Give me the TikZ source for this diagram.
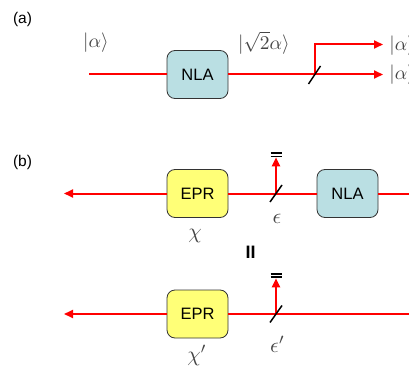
\documentclass[tikz,border=0pt]{standalone}
\usepackage{fontspec}
\setmainfont{Liberation Sans}
\usetikzlibrary{arrows.meta}
\definecolor{nlafill}{RGB}{186,223,227}
\definecolor{eprfill}{RGB}{255,255,119}
\definecolor{mathgray}{RGB}{70,70,70}
\begin{document}
\begin{tikzpicture}[x=1pt,y=-1pt,
  beam/.style={red, line width=2pt},
  arr/.style={beam, -{Triangle[length=9pt,width=8pt]}},
  mirror/.style={black, line width=1.5pt},
  detbar/.style={black, line width=2pt},
  detbarthin/.style={black, line width=1.5pt},
  boxbase/.style={draw=black!80, line width=0.8pt, rounded corners=8pt,
    minimum width=61pt, minimum height=48pt, inner sep=0pt,
    font=\fontsize{16.5}{18}\selectfont},
  nlabox/.style={boxbase, fill=nlafill},
  eprbox/.style={boxbase, fill=eprfill},
  tag/.style={font=\fontsize{15.5}{17}\selectfont, inner sep=0pt},
  lbl/.style={text=mathgray, font=\normalsize, scale=1.95, inner sep=0pt},
  blbl/.style={text=mathgray, font=\normalsize, scale=2.15, inner sep=0pt, anchor=base}
]
\useasboundingbox (0,0) rectangle (409,366);
\clip (0,0) rectangle (409,366);

% ---------- (a) ----------
\node[tag] (la) at (22.5,19.5) {(a)};
\coordinate (ain) at (89,74.5);
\node[nlabox] (nla1) at (197.5,74.5) {NLA};
\coordinate (bs1) at (314.5,74.5);
\coordinate (bs1a) at (308.5,84);
\coordinate (bs1b) at (320.5,66);
\coordinate (o1) at (383,44.5);
\coordinate (o2) at (383,74.5);
\draw[beam] (ain) -- (nla1.west);
\draw[beam] (nla1.east) -- (bs1);
\draw[arr] (bs1) -- (o2);
\draw[arr] (bs1) |- (o1);
\draw[mirror] (bs1a) -- (bs1b);
\node[lbl] (kin) at (96,42.5) {$|\alpha\rangle$};
\node[lbl] (kamp) at (264,43) {$|\sqrt{2}\alpha\rangle$};
\node[lbl, anchor=west] (kout1) at (389,46) {$|\alpha\rangle$};
\node[lbl, anchor=west] (kout2) at (389,74.5) {$|\alpha\rangle$};

% ---------- (b) ----------
\node[tag] (lb) at (22.5,162) {(b)};
\node[eprbox] (epr1) at (197.5,193.5) {EPR};
\node[nlabox] (nla2) at (347.5,193.5) {NLA};
\coordinate (l1) at (64,193.5);
\coordinate (r1) at (409,193.5);
\coordinate (bs2) at (276,193.5);
\coordinate (bs2a) at (270,202);
\coordinate (bs2b) at (282,185);
\coordinate (det1) at (276,157.3);
\coordinate (d1a) at (270.5,153.4);
\coordinate (d1b) at (281.5,153.4);
\coordinate (d1c) at (270.5,156.6);
\coordinate (d1d) at (281.5,156.6);
\draw[arr] (epr1.west) -- (l1);
\draw[beam] (epr1.east) -- (nla2.west);
\draw[beam] (nla2.east) -- (r1);
\draw[arr] (bs2) -- (det1);
\draw[mirror] (bs2a) -- (bs2b);
\draw[detbar] (d1a) -- (d1b);
\draw[detbarthin] (d1c) -- (d1d);
\node[blbl] (eps1) at (277,223) {$\epsilon$};
\node[blbl] (chi1) at (195,238.5) {$\chi$};
\node[font=\bfseries\fontsize{18}{20}\selectfont, inner sep=0pt] (eq) at (250.5,252) {II};

% ---------- row 2 ----------
\node[eprbox] (epr2) at (197.5,314) {EPR};
\coordinate (l2) at (64,314);
\coordinate (r2) at (409,314);
\coordinate (bs3) at (276,314);
\coordinate (bs3a) at (270,322.5);
\coordinate (bs3b) at (282,305.5);
\coordinate (det2) at (276,278.3);
\coordinate (d2a) at (270.5,273.8);
\coordinate (d2b) at (281.5,273.8);
\coordinate (d2c) at (270.5,277);
\coordinate (d2d) at (281.5,277);
\draw[arr] (epr2.west) -- (l2);
\draw[beam] (epr2.east) -- (r2);
\draw[arr] (bs3) -- (det2);
\draw[mirror] (bs3a) -- (bs3b);
\draw[detbar] (d2a) -- (d2b);
\draw[detbarthin] (d2c) -- (d2d);
\node[blbl] (eps2) at (277.5,352) {$\epsilon'$};
\node[blbl] (chi2) at (197,361) {$\chi'$};
\end{tikzpicture}
\end{document}
